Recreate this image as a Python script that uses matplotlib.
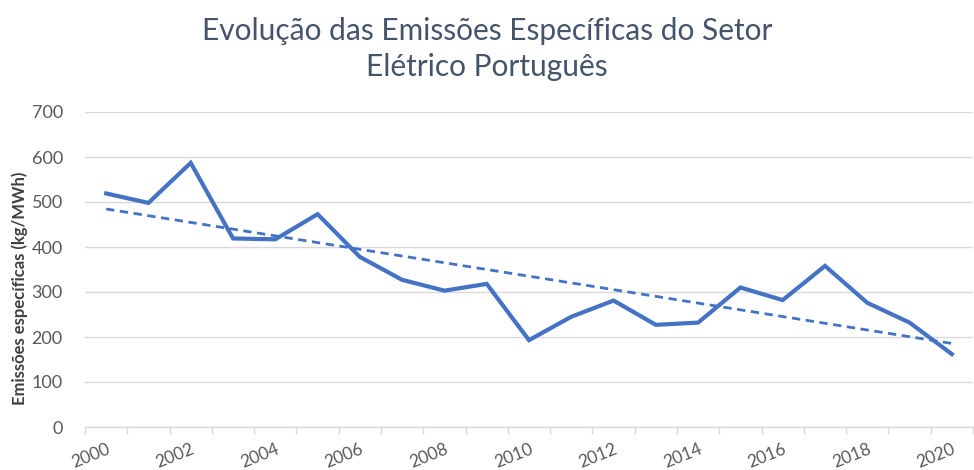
import numpy as np
import matplotlib.pyplot as plt
from matplotlib.ticker import FixedLocator

years = list(range(2000, 2021))
emissions = [519, 498, 587, 419, 417, 473, 378, 327, 303, 318, 193,
             245, 281, 227, 232, 310, 282, 358, 276, 232, 162]
y_ticks = [0, 100, 200, 300, 400, 500, 600, 700]

plt.rcParams['font.family'] = ['Lato', 'DejaVu Sans']

fig = plt.figure(figsize=(9.74, 4.70), dpi=100)
ax = fig.add_axes([85 / 974, 43 / 470, 888 / 974, 315 / 470])

x = np.arange(len(years))
ax.plot(x, emissions, color='#4472C4', linewidth=3.0, solid_joinstyle='miter', zorder=3)

# linear trend line
coef = np.polyfit(x, emissions, 1)
ax.plot(x, np.polyval(coef, x), color='#4472C4', linewidth=2.0, linestyle=(0, (3, 2)), zorder=3)

ax.set_xlim(-0.5, len(years) - 0.5)
ax.set_ylim(0, 700)
ax.set_yticks(y_ticks)
ax.grid(axis='y', color='#d9d9d9', linewidth=1)
ax.set_axisbelow(True)

for side in ['top', 'right', 'left']:
    ax.spines[side].set_visible(False)
ax.spines['bottom'].set_color('#d9d9d9')
ax.spines['bottom'].set_linewidth(1)

ax.set_xticks(x[::2])
ax.set_xticklabels([str(y) for y in years[::2]], rotation=22, ha='right',
                   rotation_mode='anchor', color='#595959', fontsize=12.5)
ax.xaxis.set_minor_locator(FixedLocator(np.arange(-0.5, len(years), 1)))
ax.tick_params(axis='x', which='major', length=0, pad=10)
ax.tick_params(axis='x', which='minor', length=5, color='#d9d9d9', width=1)
ax.tick_params(axis='y', length=0, labelcolor='#595959', labelsize=13, pad=16)

ax.set_ylabel('Emissões específicas (kg/MWh)', fontsize=12, fontweight='bold',
              color='#404040')
ax.yaxis.set_label_coords(-0.064, 0.44)

fig.text(0.5, 0.895, 'Evolução das Emissões Específicas do Setor\nElétrico Português',
         ha='center', va='center', fontsize=21.5, color='#44546A', linespacing=1.35)

fig.savefig('out.png', dpi=100)
